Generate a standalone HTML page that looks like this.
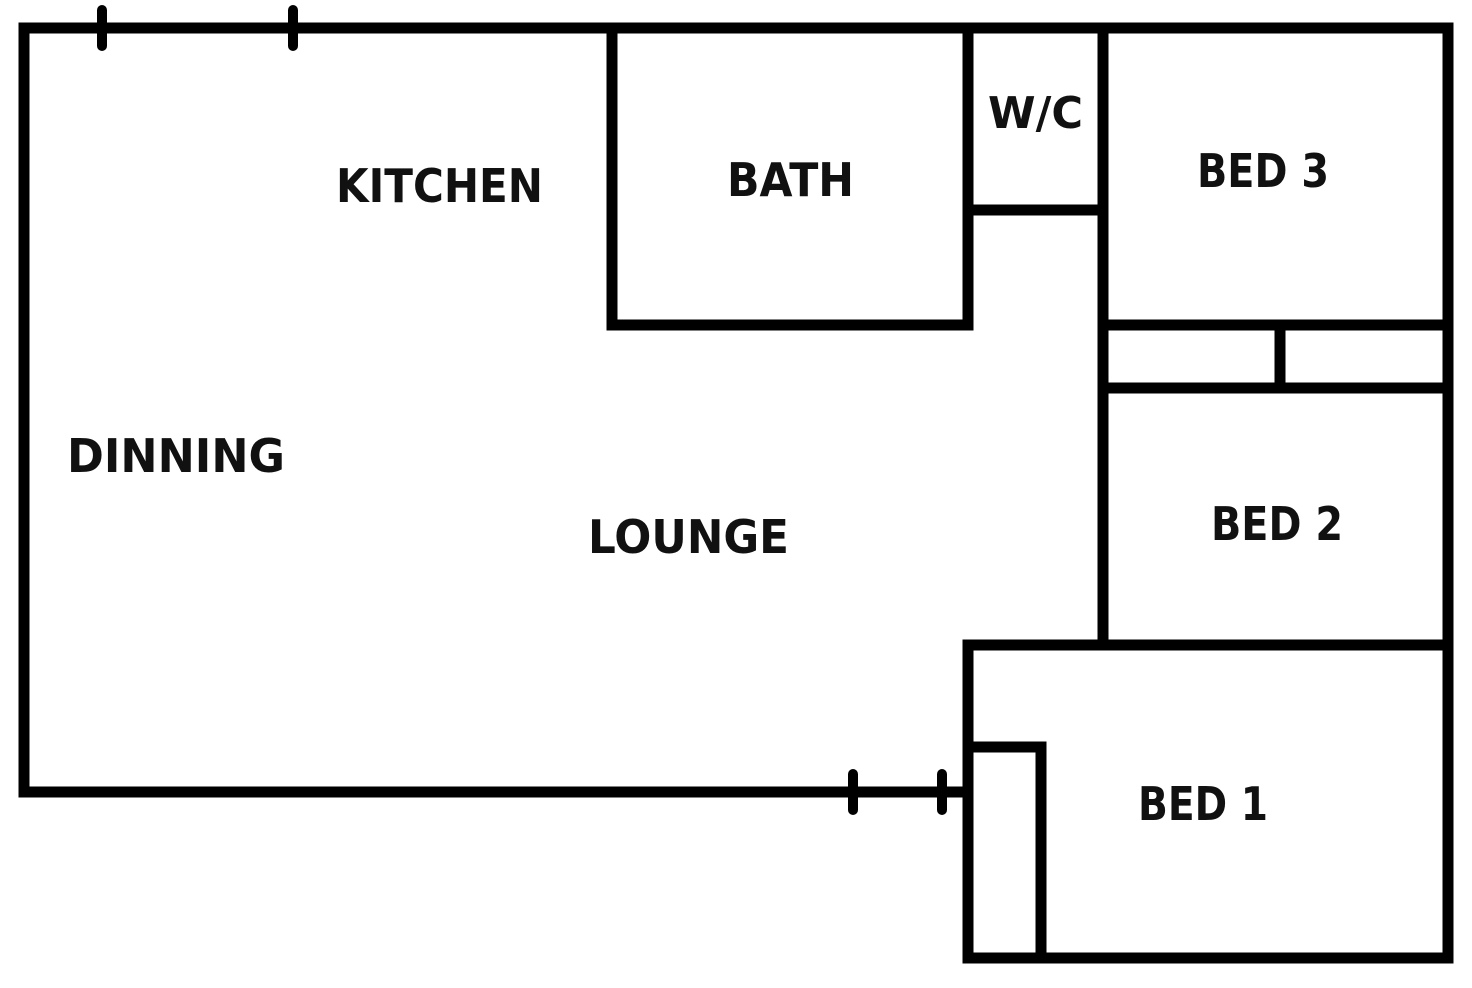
<!DOCTYPE html>
<html><head><style>
html,body{margin:0;padding:0;background:#fff;}
svg{display:block}
text{font-family:"DejaVu Sans","Liberation Sans",sans-serif;font-weight:bold;fill:#111;}
</style></head><body>
<svg width="1472" height="988" viewBox="0 0 1472 988">
<g stroke="#000" stroke-width="11" fill="none" stroke-linecap="square">
<polyline points="24,28 1448,28 1448,958"/>
<polyline points="24,28 24,792 962,792"/>
<rect x="968" y="645" width="480" height="313"/>
<polyline points="968,747 1041,747 1041,958"/>
<polyline points="612,28 612,325 968,325 968,28"/>
<polyline points="968,210 1103,210"/>
<line x1="1103" y1="28" x2="1103" y2="645"/>
<line x1="1103" y1="325" x2="1448" y2="325"/>
<line x1="1103" y1="388" x2="1448" y2="388"/>
<line x1="1280" y1="325" x2="1280" y2="388"/>
</g>
<g stroke="#000" stroke-width="10" stroke-linecap="round">
<line x1="102" y1="10" x2="102" y2="46"/>
<line x1="293" y1="10" x2="293" y2="46"/>
<line x1="853" y1="774" x2="853" y2="810"/>
<line x1="942" y1="774" x2="942" y2="810"/>
</g>
<g font-size="46" lengthAdjust="spacingAndGlyphs">
<text x="336" y="202" textLength="207" lengthAdjust="spacingAndGlyphs">KITCHEN</text>
<text x="727" y="196" textLength="127" lengthAdjust="spacingAndGlyphs">BATH</text>
<text x="988" y="128" font-size="44" textLength="95" lengthAdjust="spacingAndGlyphs">W/C</text>
<text x="1197" y="187" textLength="132" lengthAdjust="spacingAndGlyphs">BED 3</text>
<text x="67" y="472" textLength="218" lengthAdjust="spacingAndGlyphs">DINNING</text>
<text x="588" y="553" textLength="201" lengthAdjust="spacingAndGlyphs">LOUNGE</text>
<text x="1211" y="540" textLength="132" lengthAdjust="spacingAndGlyphs">BED 2</text>
<text x="1138" y="820" textLength="130" lengthAdjust="spacingAndGlyphs">BED 1</text>
</g>
</svg>
</body></html>
